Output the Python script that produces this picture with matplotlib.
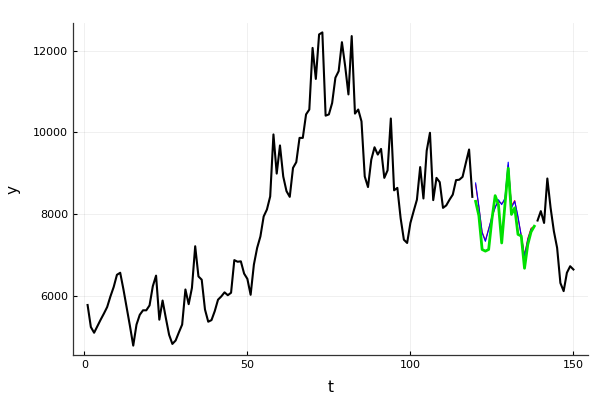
import matplotlib
matplotlib.use("Agg")
import matplotlib.pyplot as plt
import numpy as np

# observed series, first part (t = 1..119)
obs_a = [5770, 5230, 5090, 5250, 5410, 5560, 5720, 5980, 6210, 6510,
         6560, 6150, 5700, 5250, 4775, 5290, 5530, 5640, 5640, 5760,
         6230, 6490, 5410, 5880, 5450, 5040, 4816, 4900, 5100, 5290,
         6150, 5790, 6190, 7210, 6470, 6390, 5660, 5360, 5400, 5620,
         5900, 5980, 6080, 6010, 6070, 6870, 6830, 6840, 6540, 6410,
         6020, 6760, 7170, 7450, 7940, 8110, 8430, 9950, 8990, 9680,
         8920, 8560, 8420, 9130, 9270, 9865, 9865, 10440, 10560, 12070,
         11310, 12400, 12450, 10410, 10440, 10720, 11340, 11500, 12210, 11620,
         10930, 12360, 10460, 10560, 10270, 8920, 8660, 9330, 9635, 9456,
         9595, 8885, 9070, 10340, 8580, 8640, 7900, 7370, 7290, 7780,
         8070, 8350, 9150, 8380, 9550, 9990, 8340, 8885, 8780, 8150,
         8210, 8350, 8475, 8830, 8840, 8910, 9250, 9580, 8420]

# forecasts (t = 120..138)
fc_red = [8720, 8170, 7560, 7350, 7640, 7900, 8180, 8300, 8260, 8330,
          9200, 8200, 8330, 7900, 7480, 6990, 7400, 7650, 7700]
fc_blue = [8760, 8190, 7540, 7330, 7620, 7940, 8150, 8350, 8230, 8390,
           9270, 8150, 8310, 7940, 7455, 6965, 7370, 7620, 7680]
fc_green = [8310, 7960, 7130, 7090, 7130, 7870, 8450, 8230, 7290, 8230,
            9120, 7990, 8150, 7500, 7460, 6670, 7250, 7560, 7700]

# observed series, last part (t = 139..150)
obs_b = [7840, 8070, 7780, 8870, 8150, 7580, 7170, 6310, 6110, 6560,
         6720, 6640]

t_a = np.arange(1, len(obs_a) + 1)
t_fc = np.arange(len(obs_a) + 1, len(obs_a) + len(fc_blue) + 1)
t_b = np.arange(t_fc[-1] + 1, t_fc[-1] + len(obs_b) + 1)

fig = plt.figure(figsize=(6, 4), dpi=100)
ax = fig.add_axes([0.1217, 0.1125, 0.8583, 0.83])

ax.plot(t_a, obs_a, color='black', lw=1.5)
ax.plot(t_fc, fc_red, color='red', lw=0.8)
ax.plot(t_fc, fc_blue, color='blue', lw=0.8)
ax.plot(t_fc, fc_green, color='#00e000', lw=2.0)
ax.plot(t_b, obs_b, color='black', lw=1.5)

allv = np.concatenate([obs_a, fc_red, fc_blue, fc_green, obs_b])
tmin, tmax = 1, t_b[-1]
pad = 0.03 * (tmax - tmin)
ax.set_xlim(tmin - pad, tmax + pad)
vpad = 0.03 * (allv.max() - allv.min())
ax.set_ylim(allv.min() - vpad, allv.max() + vpad)

ax.set_xticks([0, 50, 100, 150])
ax.set_yticks([6000, 8000, 10000, 12000])
ax.grid(True, color='black', alpha=0.06, lw=0.7)
ax.tick_params(direction='in', length=3, width=0.8, labelsize=8, colors='black')
for s in ['top', 'right']:
    ax.spines[s].set_visible(False)
for s in ['left', 'bottom']:
    ax.spines[s].set_color('#333333')
    ax.spines[s].set_linewidth(0.9)

ax.set_xlabel('t', fontsize=11, labelpad=7)
ax.set_ylabel('y', fontsize=11, labelpad=9)

fig.savefig('out.png', dpi=100)
